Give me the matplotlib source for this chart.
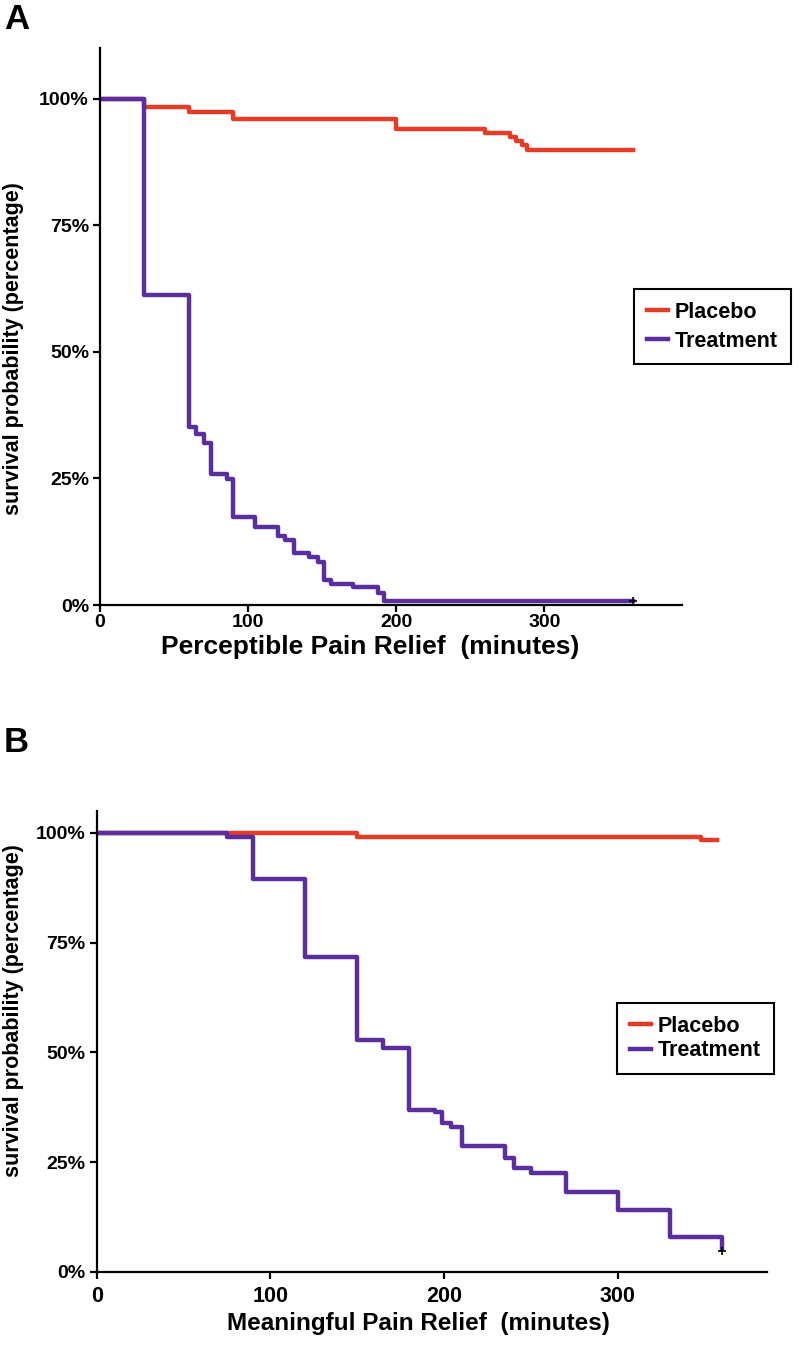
import matplotlib.pyplot as plt

plt.rcParams['font.family'] = ['Liberation Sans', 'DejaVu Sans']
plt.rcParams['font.weight'] = 'bold'

# Panel A - perceptible pain relief (minutes, survival %)
a_placebo_t = [0, 30, 60, 90, 200, 260, 277, 281, 285, 288, 360]
a_placebo_s = [100, 98.4, 97.4, 95.9, 94.1, 93.3, 92.5, 91.7, 90.8, 89.9, 89.9]
a_treat_t = [0, 30, 60, 65, 70, 75, 86, 90, 105, 120, 125, 131, 141, 147,
             151, 156, 171, 188, 192, 360]
a_treat_s = [100, 61.3, 35.1, 33.7, 32.0, 25.8, 24.9, 17.4, 15.4, 13.6, 12.8,
             10.3, 9.5, 8.5, 5.0, 4.2, 3.6, 2.4, 0.8, 0.8]

# Panel B - meaningful pain relief
b_placebo_t = [0, 150, 348, 357]
b_placebo_s = [100, 99.1, 98.4, 98.4]
b_treat_t = [0, 75, 90, 120, 150, 165, 180, 195, 199, 204, 210, 235, 240,
             250, 270, 300, 330, 360]
b_treat_s = [100, 99.1, 89.6, 71.8, 52.9, 51.1, 37.0, 36.4, 33.9, 33.0, 28.6,
             26.0, 23.6, 22.6, 18.2, 14.1, 8.0, 5.2]

yticks = [0, 25, 50, 75, 100]
ytick_labels = ['0%', '25%', '50%', '75%', '100%']
xticks = [0, 100, 200, 300]

red = '#e63b26'
purple = '#5a2e9f'

fig = plt.figure(figsize=(8, 13.52), dpi=100)
axA = fig.add_axes([0.125, 0.5525, 0.7275, 0.412])
axB = fig.add_axes([0.121, 0.0592, 0.838, 0.341])


def style(ax, xmax, ymax):
    for s in ['top', 'right']:
        ax.spines[s].set_visible(False)
    for s in ['left', 'bottom']:
        ax.spines[s].set_linewidth(1.6)
    ax.set_xlim(0, xmax)
    ax.set_ylim(0, ymax)
    ax.set_yticks(yticks)
    ax.set_yticklabels(ytick_labels)
    ax.set_xticks(xticks)
    ax.tick_params(width=1.6, length=5, labelsize=14, pad=3)
    ax.set_ylabel('survival probability (percentage)', fontsize=15.5,
                  fontweight='bold')


def add_legend(ax, anchor, spacing):
    leg = ax.legend(loc='upper left', bbox_to_anchor=anchor,
                    bbox_transform=fig.transFigure, fancybox=False,
                    edgecolor='black', framealpha=1, fontsize=15.5,
                    handlelength=1.0, borderpad=0.6, labelspacing=spacing,
                    handletextpad=0.3, borderaxespad=0)
    leg.get_frame().set_linewidth(1.5)


axA.step(a_placebo_t, a_placebo_s, where='post', color=red, lw=3.2,
         label='Placebo')
axA.step(a_treat_t, a_treat_s, where='post', color=purple, lw=3.2,
         label='Treatment')
axA.plot(a_treat_t[-1], a_treat_s[-1], '+', color='black', ms=6, mew=1.2)
style(axA, 393, 110)
axA.tick_params(axis='x', pad=1.5)
axA.set_xlabel('Perceptible Pain Relief  (minutes)', fontsize=19,
               fontweight='bold')
axA.yaxis.set_label_coords(-0.13, 0.46)
axA.xaxis.set_label_coords(0.465, -0.053)
add_legend(axA, (0.7925, 0.7862), 0.35)

axB.step(b_placebo_t, b_placebo_s, where='post', color=red, lw=3.2,
         label='Placebo')
axB.step(b_treat_t, b_treat_s, where='post', color=purple, lw=3.2,
         label='Treatment')
axB.plot(b_treat_t[-1], b_treat_s[-1] - 0.5, '+', color='black', ms=6, mew=1.2)
style(axB, 386, 105)
axB.tick_params(axis='x', labelsize=15.5, pad=5)
axB.set_xlabel('Meaningful Pain Relief  (minutes)', fontsize=17.5,
               fontweight='bold')
axB.yaxis.set_label_coords(-0.109, 0.568)
axB.xaxis.set_label_coords(0.48, -0.087)
add_legend(axB, (0.771, 0.2581), 0.15)

fig.text(0.005, 0.998, 'A', fontsize=25, fontweight='bold', va='top')
fig.text(0.005, 0.463, 'B', fontsize=25, fontweight='bold', va='top')

fig.savefig('out.png', dpi=100)
